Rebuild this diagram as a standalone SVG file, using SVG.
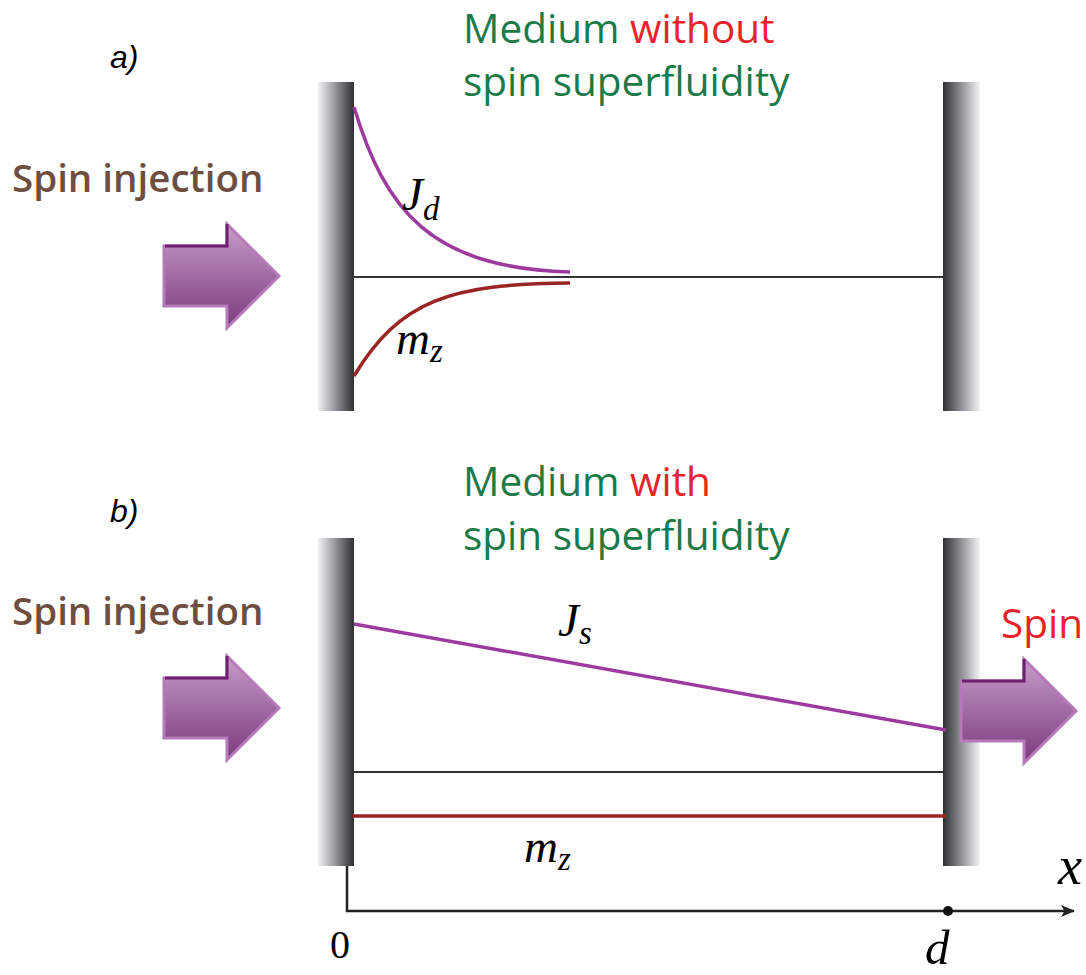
<svg xmlns="http://www.w3.org/2000/svg" width="1086" height="975" viewBox="0 0 1086 975">
<defs>
<linearGradient id="wallL" x1="0" y1="0" x2="1" y2="0">
<stop offset="0" stop-color="#f2f2f4"/><stop offset="0.45" stop-color="#9a9ca0"/><stop offset="1" stop-color="#2e2f31"/>
</linearGradient>
<linearGradient id="wallR" x1="0" y1="0" x2="1" y2="0">
<stop offset="0" stop-color="#2e2f31"/><stop offset="0.55" stop-color="#9a9ca0"/><stop offset="1" stop-color="#f4f4f6"/>
</linearGradient>
<linearGradient id="arrowFill" x1="0" y1="0" x2="0" y2="1">
<stop offset="0" stop-color="#c79cc9"/><stop offset="1" stop-color="#7a3a7e"/>
</linearGradient>
<marker id="axisHead" markerWidth="14" markerHeight="12" refX="13" refY="6" orient="auto" markerUnits="userSpaceOnUse">
<path d="M0,0 L14,6 L0,12 L3.5,6 Z" fill="#222"/>
</marker>
<g id="bigArrow">
<path d="M0,-30 L63,-30 L63,-52 L115,0 L63,52 L63,30 L0,30 Z" fill="url(#arrowFill)" stroke="#b67ab9" stroke-width="3" stroke-linejoin="miter"/>
<path d="M1,-30 L63,-30 L63,-52" fill="none" stroke="#6b1f6e" stroke-width="3"/>
</g>
</defs>
<style>
.green{fill:#1c7a48;font-family:"Open Sans","Noto Sans",sans-serif;font-size:40.5px}
.red{fill:#e8232a}
.brown{fill:#6e4f3f;font-family:"Open Sans","Noto Sans",sans-serif;font-weight:600;font-size:38.5px}
.lab{font-family:"Liberation Sans",Arial,sans-serif;font-style:italic;font-size:32px;fill:#000}
.math{font-family:"Liberation Serif","DejaVu Serif",serif;font-style:italic;fill:#000}
.axis{stroke:#222;stroke-width:2.5;fill:none}
.thin{stroke:#333;stroke-width:2;fill:none}
.pur{stroke:#9c3a9e;stroke-width:3.5;fill:none}
.dred{stroke:#9b2424;stroke-width:3.5;fill:none}
</style>
<rect width="1086" height="975" fill="#fff"/>
<g id="panel-a">
<text class="lab" x="110" y="68">a)</text>
<text class="green" x="463" y="43">Medium <tspan class="red">without</tspan></text>
<text class="green" x="463" y="96">spin superfluidity</text>
<text class="brown" x="12" y="192">Spin injection</text>
<g id="arrow-a"><use href="#bigArrow" x="164" y="276"/></g>
<g id="wall-a-left"><rect x="318" y="82" width="36" height="329" fill="url(#wallL)"/></g>
<g id="wall-a-right"><rect x="943" y="82" width="37" height="329" fill="url(#wallR)"/></g>
<g id="curves-a">
<line class="thin" x1="352" y1="277" x2="943" y2="277"/>
<path class="pur" d="M354,107 C385,210 430,268 570,272"/>
<path class="dred" d="M354,376 C400,300 450,284 570,283"/>
</g>
<text class="math" x="402" y="210" font-size="47">J<tspan font-size="33" dy="10">d</tspan></text>
<text class="math" x="396" y="354" font-size="47">m<tspan font-size="33" dy="8">z</tspan></text>
</g>
<g id="panel-b">
<text class="lab" x="110" y="522">b)</text>
<text class="green" x="463" y="496">Medium <tspan class="red">with</tspan></text>
<text class="green" x="463" y="550">spin superfluidity</text>
<text class="brown" x="12" y="625">Spin injection</text>
<text class="green red" x="1001" y="638" font-size="42">Spin</text>
<g id="arrow-b-left"><use href="#bigArrow" x="164" y="708"/></g>
<g id="wall-b-left"><rect x="318" y="538" width="36" height="328" fill="url(#wallL)"/></g>
<g id="wall-b-right"><rect x="943" y="538" width="37" height="328" fill="url(#wallR)"/></g>
<g id="arrow-b-right"><use href="#bigArrow" x="961" y="711"/></g>
<g id="lines-b">
<line class="pur" x1="354" y1="624" x2="946" y2="730"/>
<line class="thin" x1="352" y1="772" x2="943" y2="772"/>
<line class="dred" x1="352" y1="816" x2="946" y2="816"/>
</g>
<text class="math" x="558" y="636" font-size="47">J<tspan font-size="33" dy="8">s</tspan></text>
<text class="math" x="524" y="862" font-size="47">m<tspan font-size="33" dy="8">z</tspan></text>
</g>
<g id="axis">
<path class="axis" d="M347,866 L347,911 L1074,911" marker-end="url(#axisHead)"/>
<circle cx="948" cy="911" r="5" fill="#111"/>
<text x="330" y="958" font-family="Liberation Serif,serif" font-size="40" fill="#000">0</text>
<text class="math" x="925" y="964" font-size="49">d</text>
<text class="math" x="1058" y="884" font-size="54">x</text>
</g>
</svg>
